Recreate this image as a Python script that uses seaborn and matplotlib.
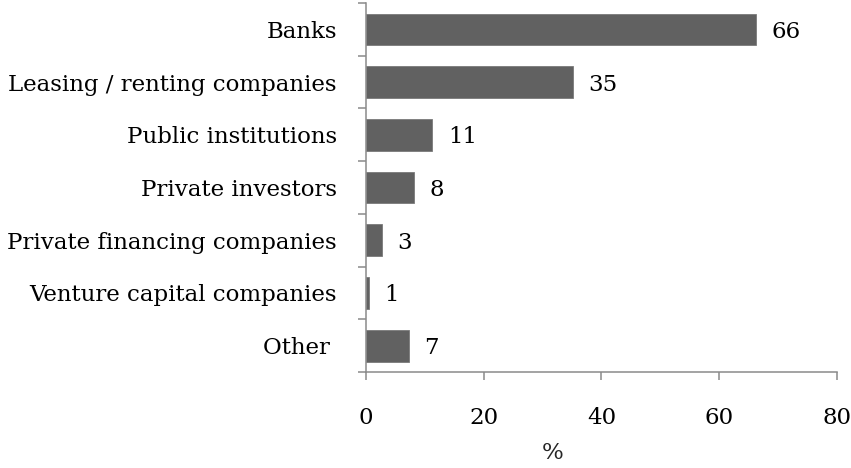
import math
import matplotlib
matplotlib.use("Agg")
import matplotlib.pyplot as plt
import numpy as np
import pandas as pd
import seaborn as sns

# Sources of financing, share of respondents (%)
categories = [
    "Banks",
    "Leasing / renting companies",
    "Public institutions",
    "Private investors",
    "Private financing companies",
    "Venture capital companies",
    "Other ",
]
shares = [66.2, 35.1, 11.3, 8.2, 2.8, 0.5, 7.3]
x_ticks = [0, 20, 40, 60, 80]

df = pd.DataFrame({"source": categories, "share": shares})

sns.set_theme(style="white")
plt.rcParams["font.family"] = ["DejaVu Serif"]

FS = 16.5
BAR = "#616161"
AXC = "#8a8a8a"

fig = plt.figure(figsize=(8.51, 4.68), dpi=100)
ax = fig.add_axes([0.430, 0.205, 0.5535, 0.7886])

sns.barplot(data=df, y="source", x="share", orient="h", color=BAR,
            saturation=1, width=0.6, ax=ax, edgecolor="#7a7a7a", linewidth=0.6)

ax.set_xlim(0, 80)
ax.set_ylim(len(categories) - 0.5, -0.5)
ax.set_xticks(x_ticks)
ax.set_xticklabels([str(t) for t in x_ticks], fontsize=FS, color="black")

# category labels without tick marks; tick marks sit on the band boundaries
ax.set_yticks(range(len(categories)))
ax.set_yticklabels(categories, fontsize=FS, color="black")
ax.tick_params(axis="y", which="major", length=0, pad=21)
ax.set_yticks(np.arange(-0.5, len(categories)), minor=True)
ax.tick_params(axis="y", which="minor", length=6, width=1.1, color=AXC, left=True)
ax.tick_params(axis="x", which="major", length=6, width=1.1, color=AXC,
               bottom=True, pad=19)

for s in ["top", "right"]:
    ax.spines[s].set_visible(False)
for s in ["left", "bottom"]:
    ax.spines[s].set_color(AXC)
    ax.spines[s].set_linewidth(1.1)

ax.set_ylabel("")
ax.set_xlabel("")
ax.text(0.397, -0.22, "%", transform=ax.transAxes, ha="center", va="center",
        fontsize=FS)

for i, v in enumerate(shares):
    ax.text(v + 2.6, i, f"{math.floor(v + 0.5)}", va="center_baseline", ha="left",
            fontsize=FS, color="black")

fig.savefig("out.png", dpi=100)
